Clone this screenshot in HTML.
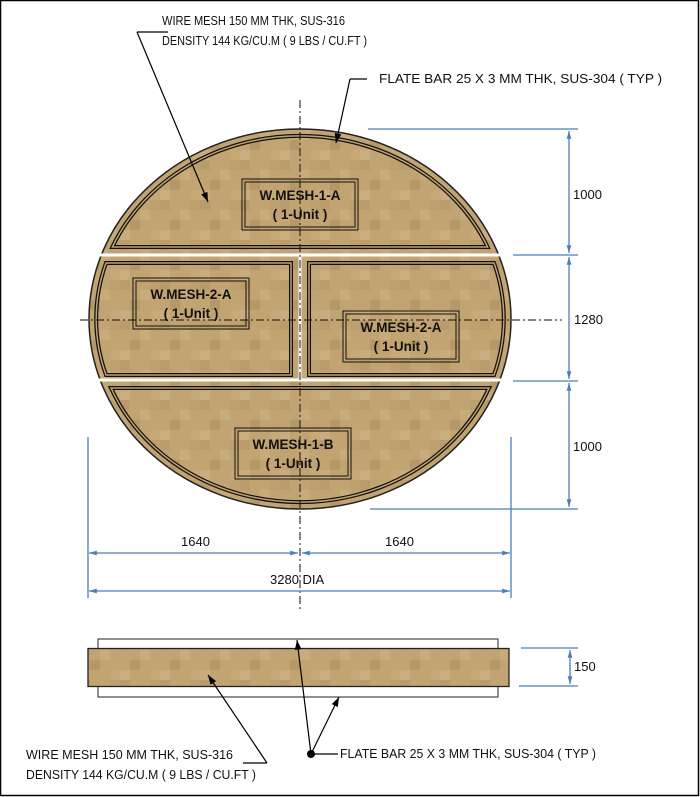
<!DOCTYPE html>
<html><head><meta charset="utf-8"><style>
html,body{margin:0;padding:0;background:#fff;}
svg{display:block;}
text{font-family:"Liberation Sans",sans-serif;fill:#111;}
</style></head><body>
<svg width="700" height="797" viewBox="0 0 700 797" xmlns="http://www.w3.org/2000/svg">
<defs>
<pattern id="tex" width="40" height="40" patternUnits="userSpaceOnUse">
<rect width="40" height="40" fill="#c2a372"/>
<rect x="0" y="0" width="10" height="10" fill="#ba9b6b"/>
<rect x="20" y="10" width="10" height="10" fill="#c8ab7b"/>
<rect x="10" y="20" width="10" height="10" fill="#b69767"/>
<rect x="30" y="30" width="10" height="10" fill="#c7a977"/>
<rect x="30" y="0" width="10" height="10" fill="#bea06f"/>
<rect x="0" y="30" width="10" height="10" fill="#caad7e"/>
</pattern>
<marker id="ab" viewBox="0 0 10 10" refX="10" refY="5" markerWidth="8" markerHeight="8" orient="auto-start-reverse"><path d="M0,1.5 L10,5 L0,8.5 Z" fill="#000"/></marker>
<marker id="bl" viewBox="0 0 10 10" refX="10" refY="5" markerWidth="6" markerHeight="6" orient="auto-start-reverse"><path d="M0,2 L10,5 L0,8 Z" fill="#4a7ebf"/></marker>
</defs>
<rect x="0.5" y="0.5" width="698" height="795" fill="#fff" stroke="#000" stroke-width="1.5"/>

<ellipse cx="300" cy="319" rx="211" ry="190" fill="url(#tex)" stroke="#222" stroke-width="1.5"/>
<g fill="none">
<path d="M112.4,247 A204,183 0 0 1 487.6,247 Z" stroke="#111" stroke-width="4"/>
<path d="M112.4,247 A204,183 0 0 1 487.6,247 Z" stroke="#c2a372" stroke-width="1.5"/>
<path d="M111,388 L489,388 A204,183 0 0 1 111,388 Z" stroke="#111" stroke-width="4"/>
<path d="M111,388 L489,388 A204,183 0 0 1 111,388 Z" stroke="#c2a372" stroke-width="1.5"/>
<path d="M291,263 L106,263 A204,183 0 0 0 106,375 L291,375 Z" stroke="#111" stroke-width="4"/>
<path d="M291,263 L106,263 A204,183 0 0 0 106,375 L291,375 Z" stroke="#c2a372" stroke-width="1.5"/>
<path d="M309,263 L494,263 A204,183 0 0 1 494,375 L309,375 Z" stroke="#111" stroke-width="4"/>
<path d="M309,263 L494,263 A204,183 0 0 1 494,375 L309,375 Z" stroke="#c2a372" stroke-width="1.5"/>
</g>
<g stroke="#fff" stroke-width="3">
<line x1="88" y1="255" x2="512" y2="255"/>
<line x1="88" y1="380" x2="512" y2="380"/>
<line x1="300" y1="255" x2="300" y2="380"/>
</g>
<g fill="none" stroke="#111" stroke-width="1">
<rect x="242" y="179" width="116" height="51"/><rect x="245" y="182" width="110" height="45"/>
<rect x="133" y="278" width="116" height="51"/><rect x="136" y="281" width="110" height="45"/>
<rect x="343" y="311" width="116" height="51"/><rect x="346" y="314" width="110" height="45"/>
<rect x="235" y="428" width="116" height="51"/><rect x="238" y="431" width="110" height="45"/>
</g>
<g font-weight="bold" font-size="13.5" text-anchor="middle">
<text x="300" y="200">W.MESH-1-A</text><text x="300" y="219">( 1-Unit )</text>
<text x="191" y="299">W.MESH-2-A</text><text x="191" y="318">( 1-Unit )</text>
<text x="401" y="332">W.MESH-2-A</text><text x="401" y="351">( 1-Unit )</text>
<text x="293" y="449">W.MESH-1-B</text><text x="293" y="468">( 1-Unit )</text>
</g>
<g stroke="#111" stroke-width="1" stroke-dasharray="8,3,2,3" fill="none">
<line x1="80" y1="320" x2="562" y2="320"/>
<line x1="300" y1="100" x2="300" y2="612"/>
</g>

<g stroke="#4a7ebf" stroke-width="1.3" fill="none">
<line x1="368" y1="129" x2="578" y2="129"/>
<line x1="513" y1="255" x2="578" y2="255"/>
<line x1="513" y1="381" x2="578" y2="381"/>
<line x1="370" y1="509" x2="578" y2="509"/>
<line x1="569" y1="131" x2="569" y2="253" marker-start="url(#bl)" marker-end="url(#bl)"/>
<line x1="569" y1="257" x2="569" y2="379" marker-start="url(#bl)" marker-end="url(#bl)"/>
<line x1="569" y1="383" x2="569" y2="507" marker-start="url(#bl)" marker-end="url(#bl)"/>
<line x1="88" y1="437" x2="88" y2="598"/>
<line x1="511" y1="437" x2="511" y2="598"/>
<line x1="89" y1="553" x2="298" y2="553" marker-start="url(#bl)" marker-end="url(#bl)"/>
<line x1="302" y1="553" x2="510" y2="553" marker-start="url(#bl)" marker-end="url(#bl)"/>
<line x1="89" y1="591" x2="510" y2="591" marker-start="url(#bl)" marker-end="url(#bl)"/>
<line x1="521" y1="648" x2="578" y2="648"/>
<line x1="519" y1="686" x2="578" y2="686"/>
<line x1="570" y1="650" x2="570" y2="684" marker-start="url(#bl)" marker-end="url(#bl)"/>
</g>
<g font-size="13">
<text x="573" y="199">1000</text>
<text x="574" y="324">1280</text>
<text x="573" y="451">1000</text>
<text x="181" y="546">1640</text>
<text x="385" y="546">1640</text>
<text x="270" y="584">3280 DIA</text>
<text x="574" y="671">150</text>
</g>

<rect x="98" y="639" width="400" height="58" fill="#fff" stroke="#222" stroke-width="1"/>
<rect x="88" y="648.5" width="421" height="38" fill="url(#tex)" stroke="#222" stroke-width="1.3"/>

<g stroke="#000" stroke-width="1.2" fill="none">
<line x1="137" y1="32" x2="168" y2="32"/>
<line x1="137" y1="32" x2="208" y2="202" marker-end="url(#ab)"/>
<line x1="350" y1="79" x2="367" y2="79"/>
<line x1="350" y1="79" x2="336" y2="143" marker-end="url(#ab)"/>
<line x1="243" y1="763" x2="267" y2="763"/>
<line x1="267" y1="763" x2="208" y2="675" marker-end="url(#ab)"/>
<line x1="311" y1="754" x2="338" y2="754"/>
<line x1="311" y1="754" x2="297" y2="640" marker-end="url(#ab)"/>
<line x1="311" y1="754" x2="339" y2="697" marker-end="url(#ab)"/>
</g>
<circle cx="311" cy="754" r="4" fill="#000"/>
<g font-size="13">
<text x="162" y="25" textLength="183" lengthAdjust="spacingAndGlyphs">WIRE MESH 150 MM THK, SUS-316</text>
<text x="162" y="45" textLength="205" lengthAdjust="spacingAndGlyphs">DENSITY 144 KG/CU.M ( 9 LBS / CU.FT )</text>
<text x="379" y="83" textLength="283" lengthAdjust="spacingAndGlyphs">FLATE BAR 25 X 3 MM THK, SUS-304 ( TYP )</text>
<text x="26" y="759" textLength="207" lengthAdjust="spacingAndGlyphs">WIRE MESH 150 MM THK, SUS-316</text>
<text x="26" y="779" textLength="230" lengthAdjust="spacingAndGlyphs">DENSITY 144 KG/CU.M ( 9 LBS / CU.FT )</text>
<text x="340" y="758" textLength="256" lengthAdjust="spacingAndGlyphs">FLATE BAR 25 X 3 MM THK, SUS-304 ( TYP )</text>
</g>
</svg>
</body></html>
